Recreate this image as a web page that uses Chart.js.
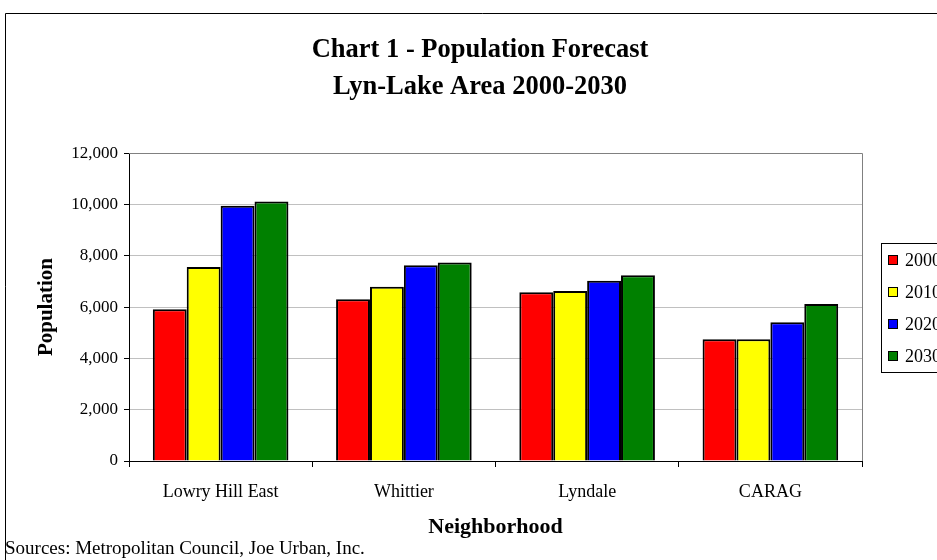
<!DOCTYPE html>
<html lang="en">
<head>
    <meta charset="UTF-8">
    <title>Population Forecast</title>
    <script src="https://cdn.jsdelivr.net/npm/chart.js"></script>
    <style>
        body {
            margin: 0;
            padding: 0;
            background: #fff;
            overflow: hidden;
            font-family: 'Liberation Serif', serif;
        }
        #wrap {
            position: relative;
            width: 960px;
            height: 560px;
        }
        canvas {
            position: absolute;
            left: 0;
            top: 0;
        }
        .sources {
            position: absolute;
            left: 5px;
            top: 537px;
            font-size: 19px;
            color: #000;
            white-space: nowrap;
        }
    </style>
</head>
<body>
    <div id="wrap">
        <canvas id="popChart" width="960" height="560"></canvas>
        <div class="sources">Sources: Metropolitan Council, Joe Urban, Inc.</div>
    </div>
    <script>
        const neighborhoods = ['Lowry Hill East', 'Whittier', 'Lyndale', 'CARAG'];
        const years = ['2000', '2010', '2020', '2030'];
        const pop2000 = [5920, 6310, 6580, 4750];
        const pop2010 = [7560, 6790, 6630, 4750];
        const pop2020 = [9950, 7630, 7030, 5410];
        const pop2030 = [10120, 7740, 7240, 6120];
        const yTicks = [0, 2000, 4000, 6000, 8000, 10000, 12000];

        const colors = ['#ff0000', '#ffff00', '#0000ff', '#008000'];
        const series = [pop2000, pop2010, pop2020, pop2030];
        const serif = "'Liberation Serif', serif";

        // white background, outer frame and the plot's top/right border
        const framePlugin = {
            id: 'frame',
            beforeDraw(chart) {
                const ctx = chart.ctx;
                ctx.save();
                ctx.fillStyle = '#fff';
                ctx.fillRect(0, 0, chart.width, chart.height);
                ctx.strokeStyle = '#000';
                ctx.lineWidth = 1;
                ctx.beginPath();
                ctx.moveTo(5.5, chart.height);
                ctx.lineTo(5.5, 13.5);
                ctx.lineTo(chart.width, 13.5);
                ctx.stroke();
                ctx.restore();
            },
            beforeDatasetsDraw(chart) {
                const a = chart.chartArea;
                const ctx = chart.ctx;
                ctx.save();
                ctx.strokeStyle = '#808080';
                ctx.lineWidth = 1;
                ctx.beginPath();
                ctx.moveTo(a.left, Math.round(a.top) + 0.5);
                ctx.lineTo(Math.round(a.right) + 0.5, Math.round(a.top) + 0.5);
                ctx.lineTo(Math.round(a.right) + 0.5, a.bottom);
                ctx.stroke();
                ctx.restore();
            }
        };

        // boxed legend on the right, cut off by the window like the original
        const boxLegend = {
            id: 'boxLegend',
            afterDraw(chart) {
                const ctx = chart.ctx;
                const left = 881, top = 243, w = 66, h = 129;
                ctx.save();
                ctx.strokeStyle = '#000';
                ctx.lineWidth = 1;
                ctx.strokeRect(left + 0.5, top + 0.5, w, h);
                ctx.font = '18px ' + serif;
                ctx.textBaseline = 'middle';
                chart.data.datasets.forEach((ds, i) => {
                    const cy = 260 + i * 32;
                    ctx.fillStyle = ds.backgroundColor;
                    ctx.fillRect(888, cy - 5, 10, 10);
                    ctx.strokeStyle = '#000';
                    ctx.strokeRect(888.5, cy - 4.5, 9, 9);
                    ctx.fillStyle = '#000';
                    ctx.fillText(ds.label, 905, cy + 1);
                });
                ctx.restore();
            }
        };

        new Chart(document.getElementById('popChart'), {
            type: 'bar',
            data: {
                labels: neighborhoods,
                datasets: years.map((y, i) => ({
                    label: y,
                    data: series[i],
                    backgroundColor: colors[i],
                    borderColor: '#000',
                    borderWidth: 2,
                    borderSkipped: 'bottom',
                    categoryPercentage: 0.74,
                    barPercentage: 1.0
                }))
            },
            options: {
                responsive: false,
                animation: false,
                layout: { padding: 0 },
                plugins: {
                    legend: { display: false },
                    tooltip: { enabled: false },
                    title: {
                        display: true,
                        text: ['Chart 1 - Population Forecast', 'Lyn-Lake Area 2000-2030'],
                        color: '#000',
                        font: { family: serif, size: 26.5, weight: 'bold', lineHeight: 1.4 },
                        padding: { top: 32, bottom: 47 }
                    }
                },
                scales: {
                    x: {
                        afterFit(scale) { scale.height = 99; },
                        grid: {
                            offset: true,
                            drawOnChartArea: false,
                            tickLength: 6,
                            tickColor: '#000'
                        },
                        border: { color: '#000', width: 1 },
                        ticks: {
                            color: '#000',
                            padding: 14,
                            font: { family: serif, size: 18 }
                        },
                        title: {
                            display: true,
                            text: 'Neighborhood',
                            color: '#000',
                            font: { family: serif, size: 22, weight: 'bold' },
                            padding: { top: 0, bottom: 19 }
                        }
                    },
                    y: {
                        min: 0,
                        max: 12000,
                        afterFit(scale) { scale.width = 129; },
                        afterBuildTicks(scale) {
                            scale.ticks = yTicks.map(v => ({ value: v }));
                        },
                        grid: {
                            color: ctx => ctx.tick && ctx.tick.value === 12000 ? '#808080' : '#c0c0c0',
                            tickColor: '#000',
                            tickLength: 5
                        },
                        border: { color: '#000', width: 1 },
                        ticks: {
                            color: '#000',
                            padding: 6,
                            font: { family: serif, size: 17 },
                            callback: v => v.toLocaleString('en-US')
                        },
                        title: {
                            display: true,
                            text: 'Population',
                            color: '#000',
                            font: { family: serif, size: 21, weight: 'bold' },
                            padding: { top: 34, bottom: 0 }
                        }
                    },
                    // empty right-hand box that keeps room for the legend
                    spacer: {
                        type: 'linear',
                        position: 'right',
                        min: 0,
                        max: 1,
                        afterFit(scale) { scale.width = 98; },
                        grid: { display: false },
                        border: { display: false },
                        ticks: { display: false }
                    }
                }
            },
            plugins: [framePlugin, boxLegend]
        });
    </script>
</body>
</html>
